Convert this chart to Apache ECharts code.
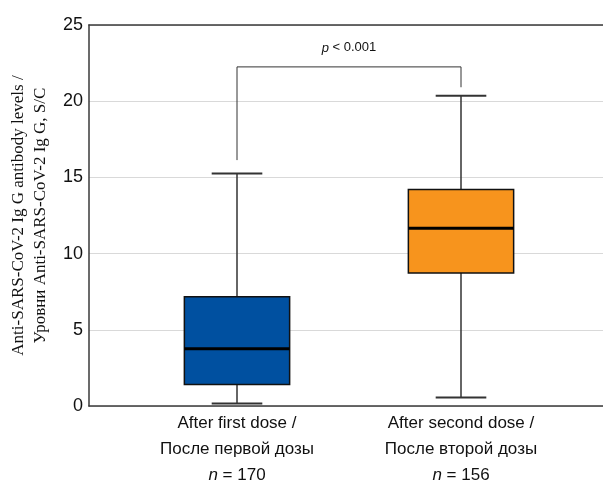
<!DOCTYPE html>
<html>
<head>
<meta charset="utf-8">
<script src="https://cdn.jsdelivr.net/npm/echarts@6/dist/echarts.min.js"></script>
<style>html,body{margin:0;padding:0;background:#fff}#c{width:603px;height:484px}</style>
</head>
<body>
<div id="c"></div>
<script>
const categories = ['After first dose /', 'After second dose /'];
const categoriesRu = ['После первой дозы', 'После второй дозы'];
const nValues = [170, 156];
// [min, Q1, median, Q3, max]
const boxValues = [
  [0.07, 1.31, 3.67, 7.09, 15.22],
  [0.46, 8.66, 11.61, 14.17, 20.34]
];
const boxColors = ['#0050A0', '#F7941D'];
const yTicks = [0, 5, 10, 15, 20, 25];
// bracket: [leftCat, rightCat, top, leftEnd, rightEnd]
const bracket = [0, 1, 22.24, 16.1, 20.9];
const pText = 'p < 0.001';

const narrow = '"Liberation Sans Narrow", "Arial Narrow", "Liberation Sans", Arial, sans-serif';
const chart = echarts.init(document.getElementById('c'));

const boxSeriesData = boxValues.map((v, i) => ({ value: [i].concat(v), itemStyle: { color: boxColors[i] } }));

chart.setOption({
  animation: false,
  backgroundColor: '#fff',
  grid: [
    { left: 88, right: 0, top: 25, bottom: 78 },
    { left: 125, right: 30, top: 25, bottom: 78 }
  ],
  xAxis: [
    { gridIndex: 0, type: 'value', min: 0, max: 1, position: 'bottom',
      axisLine: { show: true, lineStyle: { color: '#3a3a3a', width: 1.5 } },
      axisTick: { show: false }, axisLabel: { show: false }, splitLine: { show: false } },
    { gridIndex: 0, type: 'value', min: 0, max: 1, position: 'top',
      axisLine: { show: true, lineStyle: { color: '#3a3a3a', width: 1.5 } },
      axisTick: { show: false }, axisLabel: { show: false }, splitLine: { show: false } },
    { gridIndex: 1, type: 'category', data: categories, boundaryGap: true,
      axisLine: { show: false }, axisTick: { show: false },
      axisLabel: {
        margin: 6, interval: 0,
        formatter: function (val, idx) {
          return '{a|' + categories[idx] + '}\n{a|' + categoriesRu[idx] + '}\n{i|n}{a| = ' + nValues[idx] + '}';
        },
        rich: {
          a: { fontFamily: narrow, fontSize: 17, color: '#111', lineHeight: 26 },
          i: { fontFamily: narrow, fontSize: 17, color: '#111', lineHeight: 26, fontStyle: 'italic' }
        }
      } }
  ],
  yAxis: [
    { gridIndex: 0, type: 'value', min: 0, max: 25, interval: 5,
      axisLine: { show: true, lineStyle: { color: '#3a3a3a', width: 1.5 } },
      axisTick: { show: false },
      axisLabel: { fontFamily: narrow, fontSize: 18, color: '#111', margin: 6,
        formatter: v => yTicks.includes(v) ? String(v) : '' },
      splitLine: { show: true, lineStyle: { color: '#d9d9d9', width: 1.2 } },
      name: 'Anti-SARS-CoV-2 Ig G antibody levels /\nУровни Anti-SARS-CoV-2 Ig G, S/C',
      nameLocation: 'middle', nameGap: 30,
      nameTextStyle: { fontFamily: '"Liberation Serif", "Times New Roman", serif', fontSize: 17, color: '#111', lineHeight: 22 } },
    { gridIndex: 1, type: 'value', min: 0, max: 25, interval: 5, show: false }
  ],
  series: [
    {
      type: 'custom', xAxisIndex: 2, yAxisIndex: 1,
      data: boxSeriesData,
      renderItem: function (params, api) {
        const i = api.value(0);
        const lo = api.value(1), q1 = api.value(2), med = api.value(3), q3 = api.value(4), hi = api.value(5);
        const cw = api.size([1, 0])[0];
        const bw = cw * 0.47, capw = cw * 0.113;
        const pLo = api.coord([i, lo]), pQ1 = api.coord([i, q1]), pMed = api.coord([i, med]),
              pQ3 = api.coord([i, q3]), pHi = api.coord([i, hi]);
        const x = pMed[0];
        const color = boxColors[params.dataIndex];
        const ws = { stroke: '#333', lineWidth: 1.5 };
        return { type: 'group', children: [
          { type: 'line', shape: { x1: x, y1: pHi[1], x2: x, y2: pQ3[1] }, style: ws },
          { type: 'line', shape: { x1: x, y1: pQ1[1], x2: x, y2: pLo[1] }, style: ws },
          { type: 'line', shape: { x1: x - capw, y1: pHi[1], x2: x + capw, y2: pHi[1] }, style: { stroke: '#333', lineWidth: 2 } },
          { type: 'line', shape: { x1: x - capw, y1: pLo[1], x2: x + capw, y2: pLo[1] }, style: { stroke: '#333', lineWidth: 2 } },
          { type: 'rect', shape: { x: x - bw / 2, y: pQ3[1], width: bw, height: pQ1[1] - pQ3[1] },
            style: { fill: color, stroke: '#111', lineWidth: 1.5 } },
          { type: 'line', shape: { x1: x - bw / 2, y1: pMed[1], x2: x + bw / 2, y2: pMed[1] },
            style: { stroke: '#000', lineWidth: 3 } }
        ] };
      }
    },
    {
      type: 'custom', xAxisIndex: 2, yAxisIndex: 1,
      data: [bracket],
      renderItem: function (params, api) {
        const a = api.value(0), b = api.value(1), top = api.value(2), le = api.value(3), re = api.value(4);
        const p1 = api.coord([a, le]), p2 = api.coord([a, top]), p3 = api.coord([b, top]), p4 = api.coord([b, re]);
        return { type: 'group', children: [
          { type: 'polyline', shape: { points: [p1, p2, p3, p4] }, style: { stroke: '#333', lineWidth: 1, fill: null } },
          { type: 'text', x: (p2[0] + p3[0]) / 2, y: p2[1] - 19,
            style: { text: '{i|p}{a| < 0.001}', align: 'center', verticalAlign: 'middle',
              rich: {
                a: { fontFamily: narrow, fontSize: 13, fill: '#111' },
                i: { fontFamily: narrow, fontSize: 13, fill: '#111', fontStyle: 'italic' }
              } } }
        ] };
      }
    }
  ]
});
</script>
</body>
</html>
